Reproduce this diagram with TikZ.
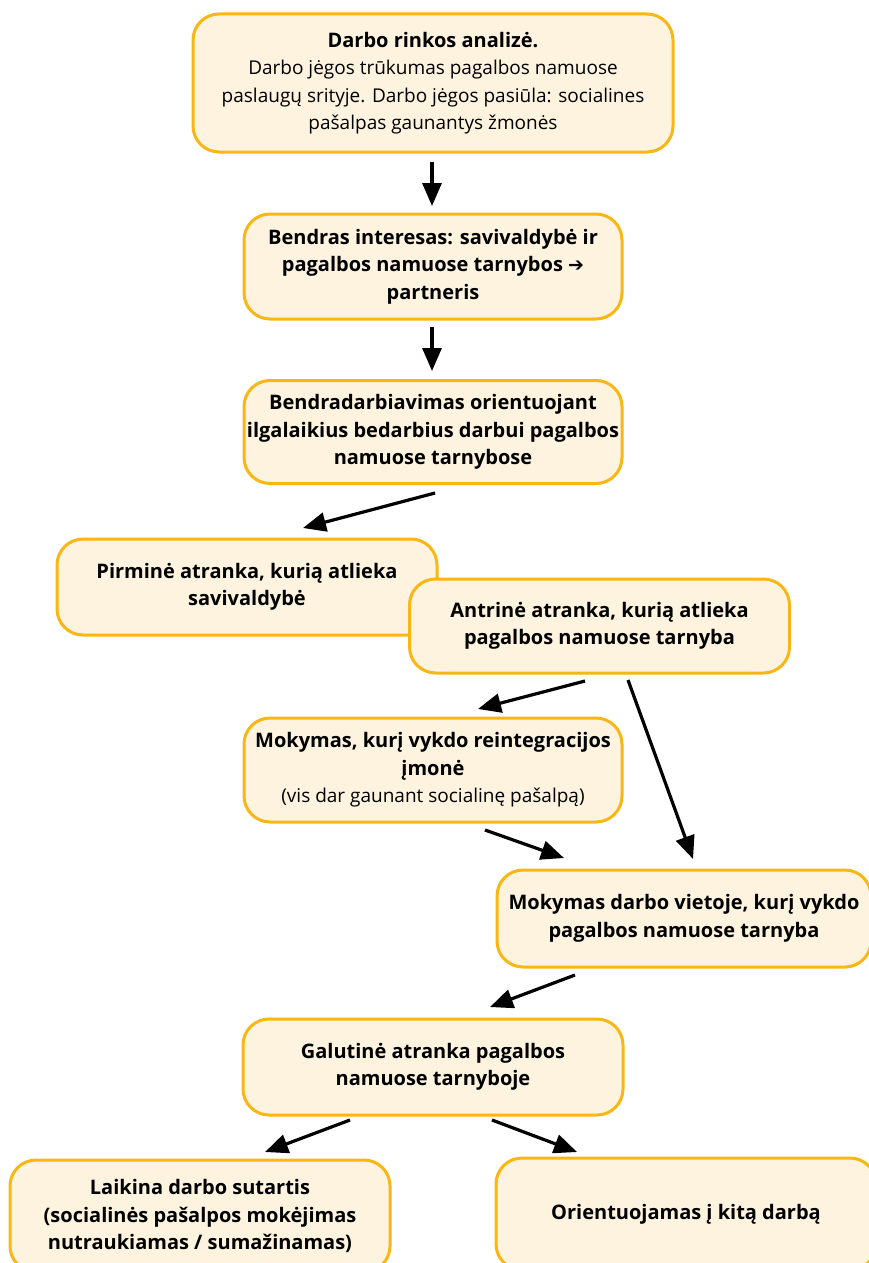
\documentclass[tikz,border=0pt]{standalone}
\usepackage{fontspec}
\setmainfont{Open Sans}
\newfontfamily\symfont{DejaVu Sans}
\usetikzlibrary{arrows.meta}

\definecolor{boxline}{RGB}{249,182,20}
\definecolor{boxfill}{RGB}{253,243,223}

% regular (non-bold) running text inside a box
\newcommand\plaintext{\fontsize{19}{27.5}\selectfont\mdseries}

\tikzset{
  stagebox/.style={draw=boxline, fill=boxfill, line width=3pt,
    rounded corners=26pt, align=center, inner sep=0pt,
    font=\fontsize{20}{27.5}\selectfont\bfseries},
  flow/.style={draw=black, line width=3.2pt,
    -{Triangle[length=23pt,width=19pt]}}
}

\begin{document}
\begin{tikzpicture}[x=1pt, y=-1pt]
\useasboundingbox (0,0) rectangle (869,1263);
\clip (0,0) rectangle (869,1263);

% stages of the process
\node[stagebox, minimum width=480pt, minimum height=138pt] (analysis) at (433,83)
  {Darbo rinkos analizė.\\
   \plaintext Darbo jėgos trūkumas pagalbos namuose\\
   \plaintext paslaugų srityje. Darbo jėgos pasiūla: socialines\\
   \plaintext pašalpas gaunantys žmonės};

\node[stagebox, minimum width=378pt, minimum height=105pt] (interest) at (433,266.5)
  {Bendras interesas: savivaldybė ir\\
   pagalbos namuose tarnybos {\symfont\fontsize{19}{19}\selectfont ➔}\\
   partneris};

\node[stagebox, minimum width=378pt, minimum height=103pt] (cooperation) at (433,432)
  {Bendradarbiavimas orientuojant\\
   ilgalaikius bedarbius darbui pagalbos\\
   namuose tarnybose};

\node[stagebox, minimum width=380pt, minimum height=96pt] (primary) at (247,587)
  {Pirminė atranka, kurią atlieka\\
   savivaldybė};

\node[stagebox, minimum width=380pt, minimum height=94pt] (secondary) at (599.5,626)
  {Antrinė atranka, kurią atlieka\\
   pagalbos namuose tarnyba};

\node[stagebox, minimum width=378pt, minimum height=104pt] (training) at (433,770)
  {Mokymas, kurį vykdo reintegracijos\\
   įmonė\\
   \plaintext (vis dar gaunant socialinę pašalpą)};

\node[stagebox, minimum width=374pt, minimum height=97pt] (onsite) at (684,918.5)
  {Mokymas darbo vietoje, kurį vykdo\\
   pagalbos namuose tarnyba};

\node[stagebox, minimum width=380pt, minimum height=96pt] (final) at (433,1067)
  {Galutinė atranka pagalbos\\
   namuose tarnyboje};

\node[stagebox, minimum width=380pt, minimum height=112pt] (contract) at (200,1216)
  {Laikina darbo sutartis\\
   (socialinės pašalpos mokėjimas\\
   nutraukiamas / sumažinamas)};

\node[stagebox, minimum width=380pt, minimum height=112pt] (otherjob) at (686,1214)
  {Orientuojamas į kitą darbą};

% arrow end points
\coordinate (a1s) at (432,162);  \coordinate (a1e) at (432,206);
\coordinate (a2s) at (432,327);  \coordinate (a2e) at (432,371);
\coordinate (a3s) at (435,493);  \coordinate (a3e) at (303,528);
\coordinate (a4s) at (585,681);  \coordinate (a4e) at (478,709);
\coordinate (a5s) at (628,680);  \coordinate (a5e) at (693,859);
\coordinate (a6s) at (485,830);  \coordinate (a6e) at (564,858);
\coordinate (a7s) at (575,975);  \coordinate (a7e) at (490,1007);
\coordinate (a8s) at (350,1120); \coordinate (a8e) at (265,1152);
\coordinate (a9s) at (492,1120); \coordinate (a9e) at (577,1152);

% connectors
\draw[flow] (a1s) -- (a1e);
\draw[flow] (a2s) -- (a2e);
\draw[flow] (a3s) -- (a3e);
\draw[flow] (a4s) -- (a4e);
\draw[flow] (a5s) -- (a5e);
\draw[flow] (a6s) -- (a6e);
\draw[flow] (a7s) -- (a7e);
\draw[flow] (a8s) -- (a8e);
\draw[flow] (a9s) -- (a9e);
\end{tikzpicture}
\end{document}
